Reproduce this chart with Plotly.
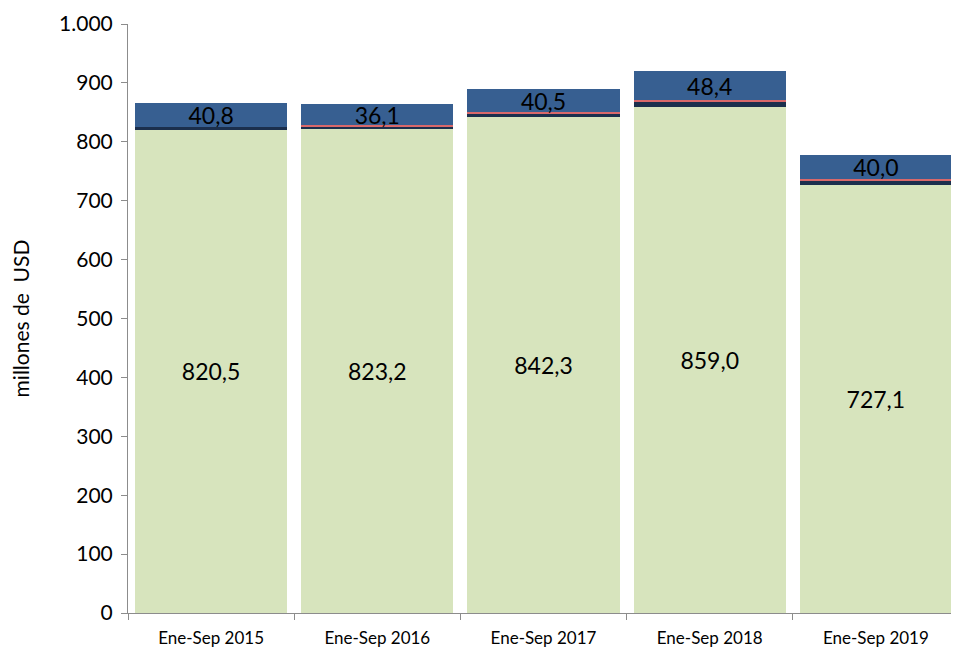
import plotly.graph_objects as go

# Data
periods = ["Ene-Sep 2015", "Ene-Sep 2016", "Ene-Sep 2017", "Ene-Sep 2018", "Ene-Sep 2019"]
green_vals = [820.5, 823.2, 842.3, 859.0, 727.1]
navy_vals = [5.0, 3.0, 5.0, 9.0, 7.0]
red_vals = [0.4, 2.0, 2.5, 3.0, 3.0]
blue_vals = [40.8, 36.1, 40.5, 48.4, 40.0]
y_ticks = [0, 100, 200, 300, 400, 500, 600, 700, 800, 900, 1000]

FONT = "Lato"

def main():
    fig = go.Figure()
    fig.add_trace(go.Bar(
        x=periods, y=green_vals, marker_color="#D7E4BD",
        text=green_vals, texttemplate="%{y:.1f}", textposition="inside",
        insidetextanchor="middle", constraintext="none",
        textfont=dict(size=23, color="black", family=FONT),
    ))
    fig.add_trace(go.Bar(x=periods, y=navy_vals, marker_color="#1B2F4D"))
    fig.add_trace(go.Bar(x=periods, y=red_vals, marker_color="#D9686A"))
    fig.add_trace(go.Bar(
        x=periods, y=blue_vals, marker_color="#375F91",
        text=blue_vals, texttemplate="%{y:.1f}", textposition="inside",
        insidetextanchor="middle", constraintext="none",
        textfont=dict(size=23, color="black", family=FONT),
    ))
    fig.update_traces(marker_line_width=0)

    # page body adds an 8px offset, so the figure is a bit smaller
    fig.update_layout(
        barmode="stack",
        bargap=0.085,
        width=951, height=644,
        margin=dict(l=120, r=0, t=16, b=39),
        plot_bgcolor="white", paper_bgcolor="white",
        separators=",.",
        showlegend=False,
        font=dict(family=FONT, color="black"),
    )
    fig.update_yaxes(
        range=[0, 1000], tickvals=y_ticks, tickformat=",d", automargin=False,
        showgrid=False, showline=True, linecolor="#8C8C8C", linewidth=1,
        ticks="outside", ticklen=6, tickcolor="#8C8C8C",
        tickfont=dict(size=21, family=FONT), ticklabelstandoff=4,
        title=dict(text="millones de  USD", font=dict(size=21, family=FONT), standoff=26),
    )
    fig.update_xaxes(
        automargin=False,
        showgrid=False, showline=True, linecolor="#8C8C8C", linewidth=1,
        ticks="outside", ticklen=6, tickcolor="#8C8C8C", tickson="boundaries",
        tickfont=dict(size=17, family=FONT), ticklabelstandoff=10,
    )
    fig.write_html("out.html")

if __name__ == "__main__":
    main()
